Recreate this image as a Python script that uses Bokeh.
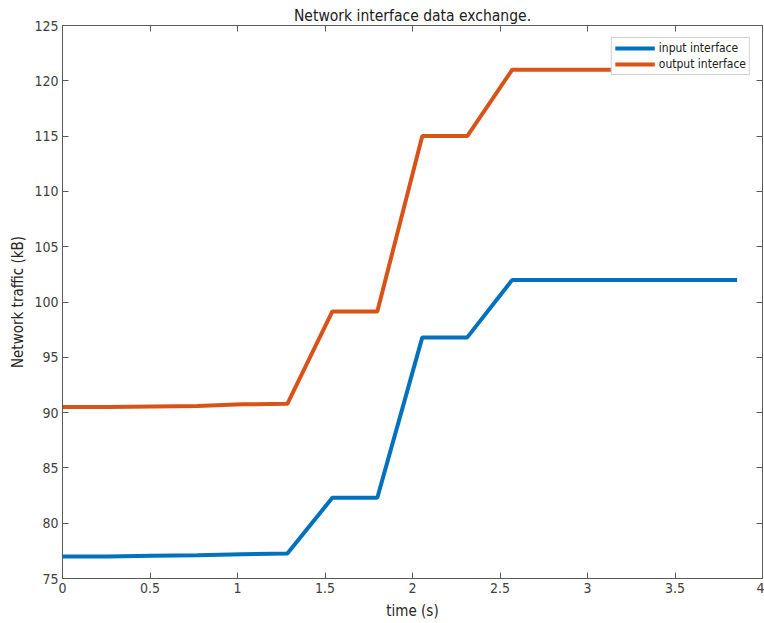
from bokeh.plotting import figure
from bokeh.models import ColumnDataSource, LinearAxis, FixedTicker, Range1d, Legend, LegendItem
from bokeh.embed import file_html
from bokeh.resources import INLINE

# data
time_s = [0.0, 0.257, 0.514, 0.771, 1.028, 1.285, 1.542, 1.799, 2.056, 2.313,
          2.570, 2.827, 3.084, 3.341, 3.598, 3.855]
input_kb = [77.0, 77.0, 77.05, 77.1, 77.2, 77.25, 82.3, 82.3, 96.8, 96.8,
            102.0, 102.0, 102.0, 102.0, 102.0, 102.0]
output_kb = [90.5, 90.5, 90.55, 90.6, 90.75, 90.8, 99.15, 99.15, 115.0, 115.0,
             121.0, 121.0, 121.0, 121.0, 121.0, 121.0]
x_ticks = [0, 0.5, 1, 1.5, 2, 2.5, 3, 3.5, 4]
y_ticks = [75, 80, 85, 90, 95, 100, 105, 110, 115, 120, 125]

FONT = "'Liberation Sans Narrow', 'DejaVu Sans Condensed', 'Liberation Sans', sans-serif"
AX = "#5a5a5a"
TXT = "#404040"

p = figure(width=764, height=623, output_backend="svg", toolbar_location=None,
           x_range=Range1d(0, 4), y_range=Range1d(75, 125),
           x_axis_location=None, y_axis_location=None,
           min_border_left=62, min_border_right=2, min_border_top=25, min_border_bottom=45)
p.background_fill_color = "white"
p.border_fill_color = "white"
p.outline_line_color = AX
p.grid.visible = False

p.title.text = "Network interface data exchange."
p.title.align = "center"
p.title.text_font = FONT
p.title.text_font_size = "15.5px"
p.title.text_font_style = "normal"
p.title.text_color = "#202020"
p.title.standoff = 2

def mk_axis(ticks, labels=True, label=None):
    ax = LinearAxis(ticker=FixedTicker(ticks=ticks))
    ax.axis_line_color = AX
    ax.major_tick_line_color = AX
    ax.major_tick_in = 6
    ax.major_tick_out = 0
    ax.minor_tick_line_color = None
    ax.major_label_text_font = FONT
    ax.major_label_text_font_size = "14px"
    ax.major_label_text_color = TXT
    if not labels:
        ax.major_label_overrides = {t: "" for t in ticks}
        ax.major_label_standoff = 0
    if label:
        ax.axis_label = label
        ax.axis_label_text_font = FONT
        ax.axis_label_text_font_size = "15px"
        ax.axis_label_text_font_style = "normal"
        ax.axis_label_text_color = "#262626"
    return ax

xb = mk_axis(x_ticks, label="time (s)")
xb.major_label_standoff = 4
xb.axis_label_standoff = 6
yl = mk_axis(y_ticks, label="Network traffic (kB)")
yl.major_label_standoff = 4
yl.axis_label_standoff = 4
xt = mk_axis(x_ticks, labels=False)
yr = mk_axis(y_ticks, labels=False)
p.add_layout(xb, "below")
p.add_layout(yl, "left")
p.add_layout(xt, "above")
p.add_layout(yr, "right")

src = ColumnDataSource(dict(t=time_s, a=input_kb, b=output_kb))
r1 = p.line("t", "a", source=src, line_color="#0072BD", line_width=4)
r2 = p.line("t", "b", source=src, line_color="#D95319", line_width=4)

leg = Legend(items=[LegendItem(label="input interface", renderers=[r1]),
                    LegendItem(label="output interface", renderers=[r2])],
             location="top_right")
leg.label_text_font = FONT
leg.label_text_font_size = "12px"
leg.label_text_color = "#202020"
leg.glyph_width = 40
leg.glyph_height = 14
leg.label_height = 14
leg.spacing = 2
leg.padding = 3
leg.margin = 12
leg.label_standoff = 4
leg.border_line_color = "#a0a0a0"
leg.background_fill_alpha = 1
p.add_layout(leg)

open("out.html", "w").write(file_html(p, INLINE))
